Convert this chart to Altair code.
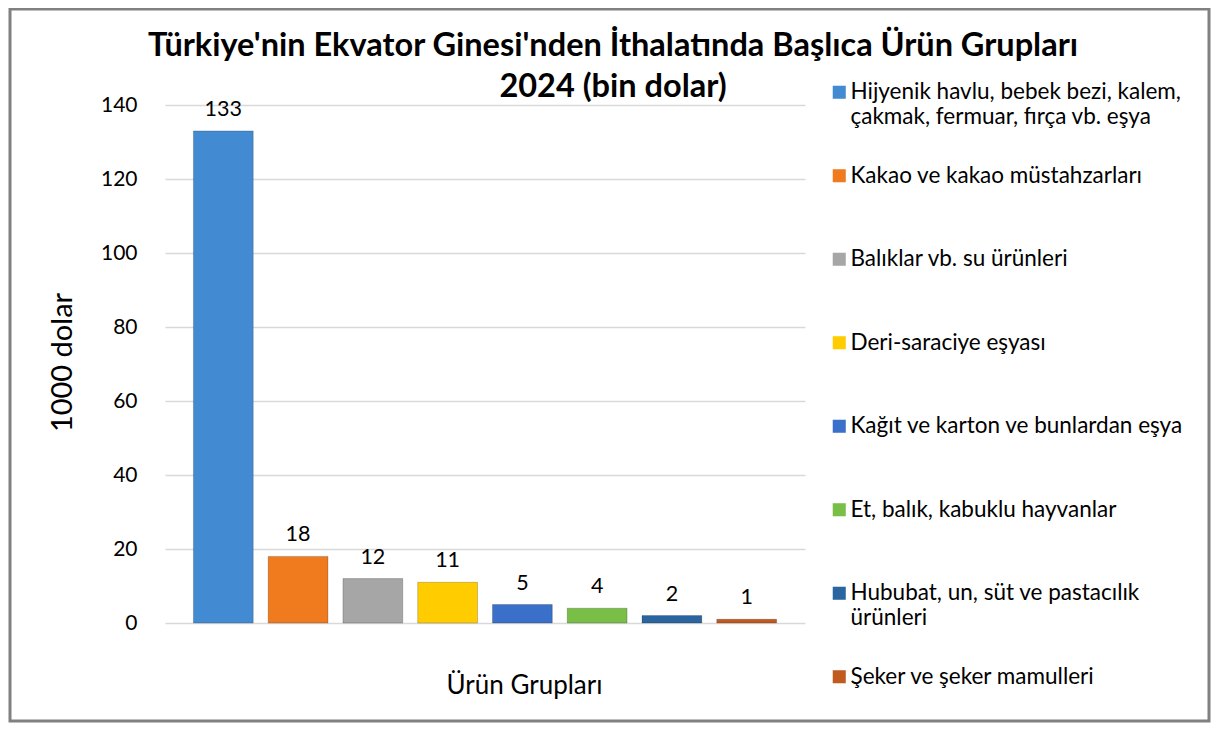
import altair as alt
import pandas as pd

categories = [
    "Hijyenik havlu, bebek bezi, kalem, çakmak, fermuar, fırça vb. eşya",
    "Kakao ve kakao müstahzarları",
    "Balıklar vb. su ürünleri",
    "Deri-saraciye eşyası",
    "Kağıt ve karton ve bunlardan eşya",
    "Et, balık, kabuklu hayvanlar",
    "Hububat, un, süt ve pastacılık ürünleri",
    "Şeker ve şeker mamulleri",
]
values = [133, 18, 12, 11, 5, 4, 2, 1]
colors = ["#428BD2", "#F07A1E", "#A6A6A6", "#FFCC00", "#3A70C9", "#78BE47", "#2B65A0", "#C05A1E"]
y_ticks = [0, 20, 40, 60, 80, 100, 120, 140]

title_lines = ["Türkiye'nin Ekvator Ginesi'nden İthalatında Başlıca Ürün Grupları", "2024 (bin dolar)"]
y_title = "1000 dolar"
x_title = "Ürün Grupları"

df = pd.DataFrame({"cat": categories, "val": values})

FONT = "Lato"

label_expr = (
    "datum.label == '" + categories[0] + "' ? ['Hijyenik havlu, bebek bezi, kalem,', 'çakmak, fermuar, fırça vb. eşya'] : "
    "datum.label == '" + categories[6] + "' ? ['Hububat, un, süt ve pastacılık', 'ürünleri'] : [datum.label, '']"
)

x_enc = alt.X(
    "cat:N",
    sort=categories,
    scale=alt.Scale(paddingInner=0.2, paddingOuter=0.38),
    axis=alt.Axis(
        labels=False, ticks=False, domain=False, title=x_title,
        titleFontSize=26, titleFont=FONT, titleFontWeight="normal", titleColor="#000000",
        titleX=359, titleY=62, titleBaseline="middle", titleAlign="center",
    ),
)

bars = alt.Chart(df).mark_bar(stroke="#00000033", strokeWidth=1).encode(
    x=x_enc,
    y=alt.Y(
        "val:Q",
        scale=alt.Scale(domain=[0, 140], nice=False),
        axis=alt.Axis(
            values=y_ticks, grid=True, gridColor="#D9D9D9", gridWidth=1.5,
            ticks=False, domain=False, labelPadding=28, labelFontSize=21,
            labelFont=FONT, labelColor="#000000",
            title=y_title, titleFontSize=29, titleFont=FONT, titleFontWeight="normal",
            titleColor="#000000", titleX=-103, titleY=257, titleAngle=-90,
            titleAlign="center", titleBaseline="middle",
        ),
    ),
    color=alt.Color(
        "cat:N",
        sort=categories,
        scale=alt.Scale(domain=categories, range=colors),
        legend=alt.Legend(
            title=None, orient="none", legendX=663, legendY=-24,
            symbolType="square", symbolSize=170, symbolStrokeWidth=0,
            labelFontSize=22.5, labelFont=FONT, labelColor="#000000",
            labelLimit=400, labelOffset=0, rowPadding=35.5,
            labelExpr=label_expr,
        ),
    ),
)

text = alt.Chart(df).mark_text(baseline="bottom", dy=-10, fontSize=21.5, font=FONT, color="#000000").encode(
    x=alt.X("cat:N", sort=categories),
    y="val:Q",
    text="val:Q",
)

border_df = pd.DataFrame({"b": [1]})
border = alt.Chart(border_df).mark_rect(fill=None, stroke="#808080", strokeWidth=3).encode(
    x=alt.value(-155), x2=alt.value(1044), y=alt.value(-96), y2=alt.value(616)
)

chart = alt.layer(border, bars, text).properties(
    width=640, height=518,
    padding={"left": 157, "top": 97, "right": 406, "bottom": 100},
    autosize=alt.AutoSizeParams(type="none"),
    title=alt.TitleParams(
        text=title_lines, font=FONT, fontSize=32.5, fontWeight="bold", color="#000000",
        anchor="middle", dx=128, dy=133, baseline="bottom", offset=4, lineHeight=41,
    ),
).configure_view(stroke=None).configure_legend(padding=0)

chart.save("out.html", embed_options={"renderer": "svg", "actions": False})
